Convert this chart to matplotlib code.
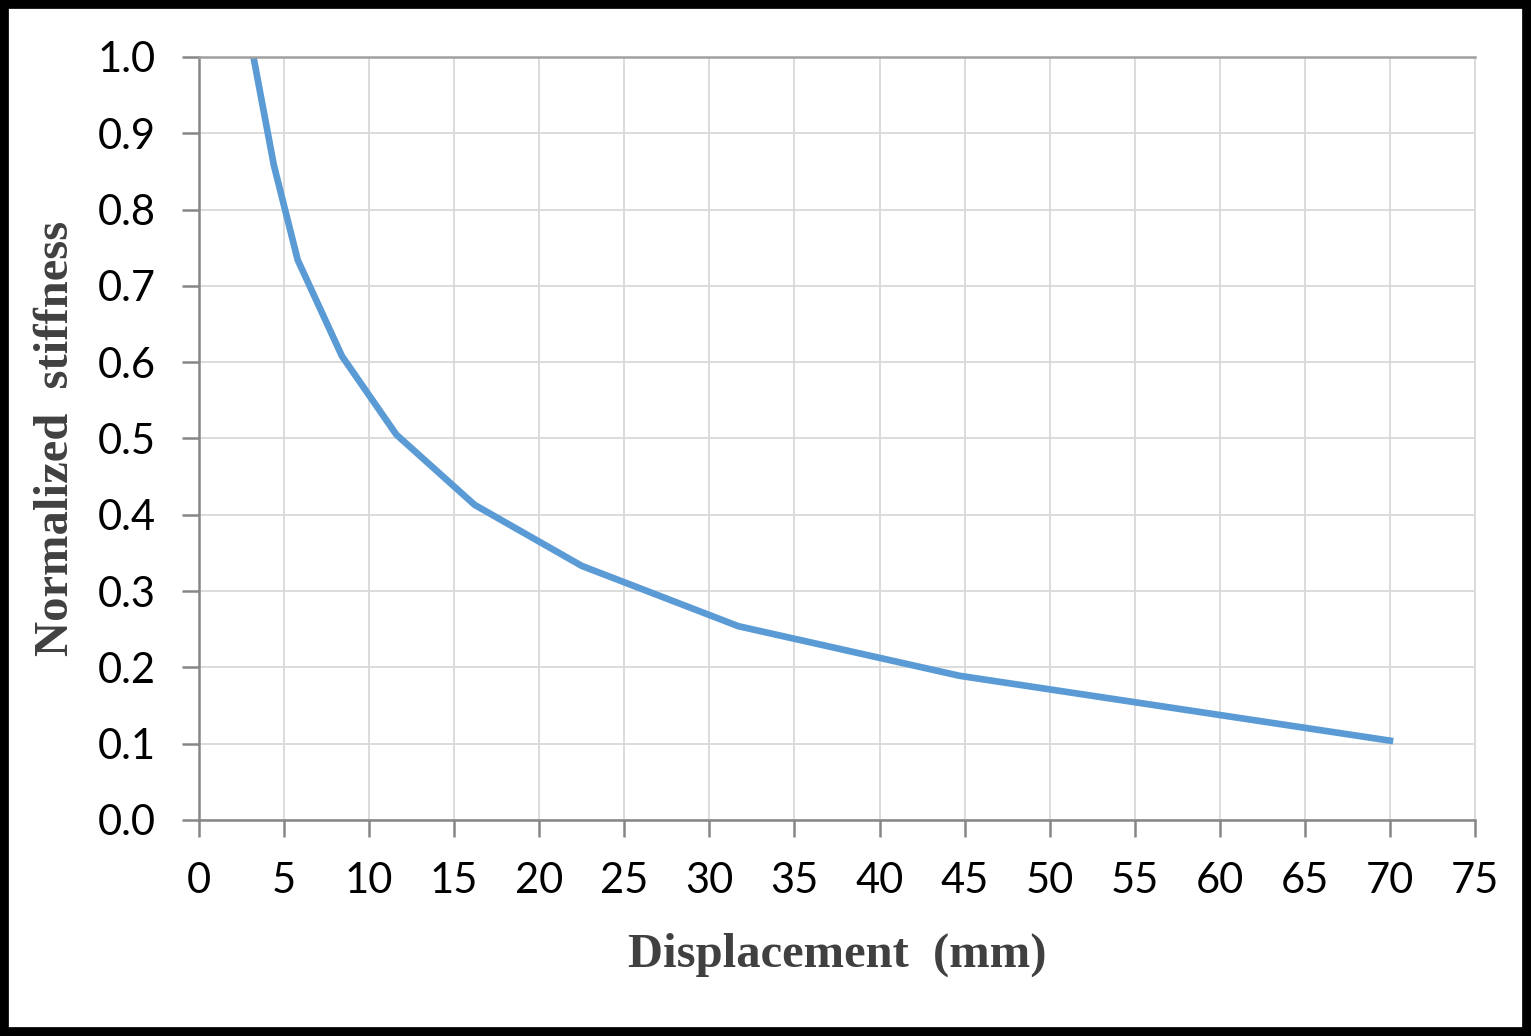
import matplotlib
matplotlib.use('Agg')
import matplotlib.pyplot as plt
from matplotlib.patches import Rectangle

# displacement (mm) vs normalized stiffness
displacement = [3.2, 4.4, 5.8, 8.4, 11.6, 16.2, 22.5, 31.7, 44.7, 70.0]
stiffness = [1.0, 0.858, 0.734, 0.608, 0.505, 0.413, 0.333, 0.254, 0.189, 0.104]

x_ticks = list(range(0, 80, 5))
y_ticks = [i / 10 for i in range(11)]

fig = plt.figure(figsize=(15.31, 10.36), dpi=100)
ax = fig.add_axes([0.130, 0.2085, 0.8334, 0.7365])

ax.plot(displacement, stiffness, color="#5B9BD5", linewidth=4.8, solid_joinstyle="miter")

ax.set_xlim(0, 75)
ax.set_ylim(0, 1.0)
ax.set_xticks(x_ticks)
ax.set_yticks(y_ticks)
ax.set_yticklabels([f"{v:.1f}" for v in y_ticks])
ax.grid(True, color="#D9D9D9", linewidth=1.3)
ax.set_axisbelow(True)

for side in ["left", "bottom"]:
    ax.spines[side].set_color("#868686")
    ax.spines[side].set_linewidth(1.8)
ax.spines["top"].set_color("#A0A0A0")
ax.spines["top"].set_linewidth(1.8)
ax.spines["right"].set_color("#D9D9D9")
ax.spines["right"].set_linewidth(1.3)

ax.tick_params(axis="both", which="major", labelsize=30, colors="#868686",
               labelcolor="black", width=1.8, length=12, direction="out")
ax.tick_params(axis="x", pad=18)
ax.tick_params(axis="y", pad=19)
for lbl in ax.get_xticklabels() + ax.get_yticklabels():
    lbl.set_family(["Lato", "DejaVu Sans"])

ax.set_xlabel("Displacement  (mm)", fontsize=35, fontweight="bold",
              family="Liberation Serif", color="#404040", labelpad=24)
ax.set_ylabel("Normalized  stiffness", fontsize=35, fontweight="bold",
              family="Liberation Serif", color="#404040", labelpad=14)

# thick black frame around the whole picture
fig.patches.append(Rectangle((0.0025, 0.004), 0.995, 0.992, transform=fig.transFigure,
                             fill=False, edgecolor="black", linewidth=7))

fig.savefig("out.png", dpi=100)
